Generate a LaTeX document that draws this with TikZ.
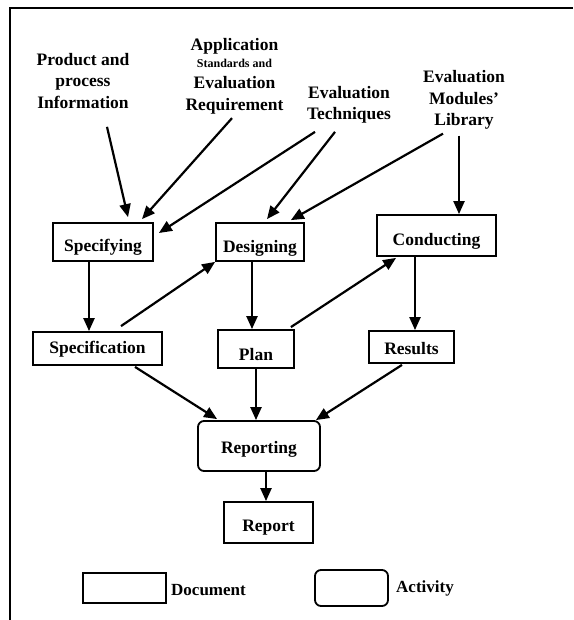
\documentclass[tikz,border=0pt]{standalone}
\usepackage{fontspec}
\setmainfont{Liberation Serif}
\usetikzlibrary{arrows.meta,calc}

\tikzset{
  doc/.style={draw, line width=1.8pt, rectangle, inner sep=0pt,
    font=\fontsize{17.5}{21}\selectfont\bfseries},
  act/.style={doc, rounded corners=6pt},
  % baseline placement inside a box: baseline sits #1/2 below the centre
  drop/.style={text height=#1, text depth=0pt},
  lbl/.style={align=center, inner sep=0pt,
    font=\fontsize{17.5}{21.5}\selectfont\bfseries},
  arr/.style={line width=2.2pt, -{Triangle[length=13pt,width=11pt]}},
  frame/.style={line width=1.8pt}
}

\begin{document}
\begin{tikzpicture}[x=1pt,y=-1pt]
\useasboundingbox (0,0) rectangle (573,620);

% outer frame (top and left edges)
\draw[frame] (10,620) -- (10,8) -- (573,8);

% input labels
\node[lbl] (prod) at (83,81) {Product and\\process\\Information};
\node[lbl] (app) at (234.5,76) {Application\\[-4.5pt]{\fontsize{12}{14}\selectfont Standards and}\\Evaluation\\Requirement};
\node[lbl] (tech) at (349,105) {Evaluation\\Techniques};
\node[lbl] (lib) at (464,100) {Evaluation\\Modules'\\Library};

% activities and documents
\node[doc, drop=18pt, minimum width=100pt, minimum height=38pt] (spfy) at (103,242) {Specifying};
\node[doc, drop=21pt, minimum width=88pt, minimum height=38pt] (dsgn) at (260,242) {Designing};
\node[doc, drop=20pt, minimum width=119pt, minimum height=41pt] (cond) at (436.5,235.5) {Conducting};
\node[doc, drop=10pt, minimum width=129pt, minimum height=33pt] (spec) at (97.5,348.5) {Specification};
\node[doc, drop=23pt, minimum width=76pt, minimum height=38pt] (plan) at (256,349) {Plan};
\node[doc, drop=14pt, minimum width=85pt, minimum height=32pt] (res) at (411.5,347) {Results};
\node[act, drop=14pt, minimum width=122pt, minimum height=50pt] (rep) at (259,446) {Reporting};
\node[doc, drop=17pt, minimum width=89pt, minimum height=41pt] (rpt) at (268.5,522.5) {Report};

% legend
\node[doc, minimum width=83pt, minimum height=30pt] (legdoc) at (124.5,588) {};
\node[anchor=west, inner sep=0pt, font=\fontsize{17}{20}\selectfont\bfseries] (legdoct) at (171,590) {Document};
\node[act, minimum width=73pt, minimum height=36pt] (legact) at (351.5,588) {};
\node[anchor=west, inner sep=0pt, font=\fontsize{17}{20}\selectfont\bfseries] (legactt) at (396,588) {Activity};

% inputs into the activities
\draw[arr] ($(prod.south)+(24,18)$) -- ($(spfy.north)+(25,-5)$);
\draw[arr] ($(app.south)+(-2.5,4)$) -- ($(spfy.north)+(39,-3)$);
\draw[arr] ($(tech.south)+(-34,8)$) -- ($(spfy.east)+(5,-9)$);
\draw[arr] ($(tech.south)+(-14,8)$) -- ($(dsgn.north)+(7,-3)$);
\draw[arr] ($(lib.south)+(-21,4)$) -- ($(dsgn.north east)+(-14,-2)$);
\draw[arr] ($(lib.south)+(-5,6)$) -- ($(cond.north)+(22.5,0)$);

% activity flow
\draw[arr] ($(spfy.south)+(-14,0)$) -- ($(spec.north)+(-8.5,0)$);
\draw[arr] ($(spec.north)+(23.5,-5)$) -- (dsgn.south west);
\draw[arr] ($(dsgn.south)+(-8,0)$) -- ($(plan.north)+(-4,0)$);
\draw[arr] ($(plan.north east)+(-4,-2)$) -- ($(cond.south west)+(20,1)$);
\draw[arr] ($(cond.south)+(-21.5,0)$) -- ($(res.north)+(3.5,0)$);

% documents into reporting
\draw[arr] ($(spec.south)+(37.5,1)$) -- ($(rep.north west)+(20,-1)$);
\draw[arr] (plan.south) -- ($(rep.north)+(-3,0)$);
\draw[arr] ($(res.south)+(-9.5,1)$) -- ($(rep.north east)+(-5,0)$);
\draw[arr] ($(rep.south)+(7,0)$) -- ($(rpt.north)+(-2.5,0)$);
\end{tikzpicture}
\end{document}
